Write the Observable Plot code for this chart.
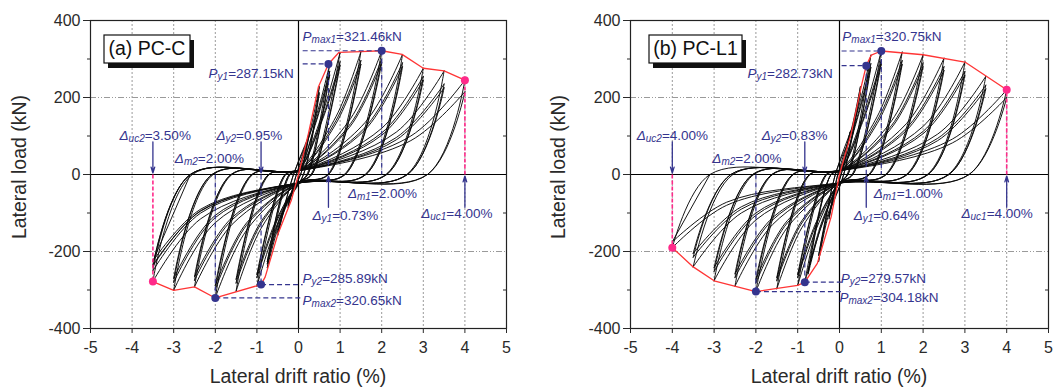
<!DOCTYPE html>
<html><head><meta charset="utf-8">
<script src="https://cdn.jsdelivr.net/npm/d3@7"></script>
<script src="https://cdn.jsdelivr.net/npm/@observablehq/plot@0.6"></script>
<style>
body{margin:0;background:#fff;}
#wrap{display:flex;width:1054px;height:391px;overflow:hidden;}
#wrap svg{display:block;flex:none;}
</style></head><body><div id="wrap"></div>
<script>
// ---------- axis ticks ----------
const xTicks = [-5,-4,-3,-2,-1,0,1,2,3,4,5];
const yTicks = [-400,-200,0,200,400];
const yMinor = [-300,-100,100,300];
const gridX = [-4,-3,-2,-1,1,2,3,4];
const gridY = [-200,200];
const PIN_POS = 10, PIN_NEG = -22;

// ---------- (a) PC-C : cycle key points (peak, knee, zero-load drift) ----------
const aDp  = [0.25,0.25,0.5,0.5,0.75,0.75,0.75,1,1,1,1.5,1.5,1.5,2,2,2,2.5,2.5,2.5,3,3,3,3.5,3.5,3.5,4,4];
const aPp  = [107,100,228,212,287,268,258,317,293,283,319,296,286,321,300,290,312,290,280,276,255,245,269,235,225,245,215];
const aKxp = [0.12,0.12,0.28,0.28,0.42,0.42,0.42,0.55,0.55,0.55,0.9,0.9,0.9,1.25,1.25,1.25,1.6,1.6,1.6,2,2,2,2.35,2.35,2.35,2.7,2.7];
const aKyp = [48,45,115,105,150,140,135,150,140,135,150,140,132,145,132,126,135,122,116,120,108,102,110,96,90,100,88];
const aRp  = [0.05,0.05,0.12,0.12,0.2,0.22,0.22,0.3,0.32,0.32,0.7,0.72,0.72,1.1,1.12,1.12,1.6,1.62,1.62,2.1,2.12,2.12,2.6,2.62,2.62,3.1,3.1];
const aDn  = [-0.25,-0.25,-0.5,-0.5,-0.75,-0.75,-0.75,-1,-1,-1,-1.5,-1.5,-1.5,-2,-2,-2,-2.5,-2.5,-2.5,-3,-3,-3,-3.5,-3.5,-3.5,-3.5,-3.5];
const aPn  = [-85,-80,-158,-150,-242,-232,-226,-290,-268,-260,-303,-282,-272,-320,-298,-288,-292,-275,-265,-301,-280,-270,-278,-250,-238,-235,-225];
const aKxn = [-0.12,-0.12,-0.28,-0.28,-0.42,-0.42,-0.42,-0.55,-0.55,-0.55,-0.9,-0.9,-0.9,-1.25,-1.25,-1.25,-1.6,-1.6,-1.6,-2,-2,-2,-2.35,-2.35,-2.35,-2.35,-2.35];
const aKyn = [-38,-35,-75,-70,-115,-108,-104,-140,-128,-122,-140,-128,-122,-145,-132,-126,-130,-118,-112,-125,-112,-106,-115,-100,-94,-95,-90];
const aRn  = [-0.05,-0.05,-0.12,-0.12,-0.2,-0.22,-0.22,-0.3,-0.32,-0.32,-0.7,-0.72,-0.72,-1.1,-1.12,-1.12,-1.6,-1.62,-1.62,-2.05,-2.08,-2.08,-2.55,-2.6,-2.6,-2.6,-2.6];
// envelope (a)
const aEnvX = [-3.5,-3,-2.5,-2,-0.9,-0.8,-0.49,-0.17,0,0.24,0.48,0.72,0.97,1.5,2,2.49,3,3.5,4];
const aEnvY = [-278,-301,-292,-320.65,-285.89,-266,-153,-66,0,107,228,287.15,317,319,321.46,312,276,269,245];

// ---------- (b) PC-L1 ----------
const bDp  = [0.25,0.25,0.5,0.5,0.75,0.75,0.75,1,1,1,1.5,1.5,1.5,2,2,2,2.5,2.5,2.5,3,3,3,3.5,3.5,3.5,4,4];
const bPp  = [110,104,228,212,310,288,278,321,298,288,318,296,286,311,290,280,302,280,270,292,268,258,255,232,222,220,200];
const bKxp = [0.12,0.12,0.28,0.28,0.42,0.42,0.42,0.55,0.55,0.55,0.9,0.9,0.9,1.25,1.25,1.25,1.6,1.6,1.6,2,2,2,2.35,2.35,2.35,2.7,2.7];
const bKyp = [48,45,115,105,160,148,142,150,140,135,150,140,132,140,128,122,132,120,114,125,112,106,105,94,88,92,82];
const bRp  = [0.04,0.04,0.1,0.1,0.18,0.2,0.2,0.3,0.32,0.32,0.7,0.72,0.72,1.1,1.12,1.12,1.6,1.62,1.62,2.1,2.12,2.12,2.6,2.62,2.62,3.1,3.1];
const bDn  = [-0.25,-0.25,-0.5,-0.5,-0.83,-0.75,-0.75,-1,-1,-1,-1.5,-1.5,-1.5,-2,-2,-2,-2.5,-2.5,-2.5,-3,-3,-3,-3.5,-3.5,-3.5,-4,-4];
const bPn  = [-115,-108,-226,-210,-280,-258,-250,-288,-268,-260,-297,-276,-268,-304,-282,-272,-290,-268,-258,-276,-252,-242,-240,-215,-205,-190,-175];
const bKxn = [-0.12,-0.12,-0.28,-0.28,-0.45,-0.42,-0.42,-0.55,-0.55,-0.55,-0.9,-0.9,-0.9,-1.25,-1.25,-1.25,-1.6,-1.6,-1.6,-2,-2,-2,-2.35,-2.35,-2.35,-2.7,-2.7];
const bKyn = [-52,-48,-112,-104,-140,-128,-122,-140,-128,-122,-138,-126,-120,-138,-126,-120,-130,-118,-112,-118,-106,-100,-100,-90,-84,-80,-72];
const bRn  = [-0.04,-0.04,-0.1,-0.1,-0.2,-0.2,-0.2,-0.3,-0.32,-0.32,-0.7,-0.72,-0.72,-1.1,-1.12,-1.12,-1.6,-1.62,-1.62,-2.05,-2.08,-2.08,-2.55,-2.6,-2.6,-3.1,-3.1];
const bEnvX = [-4,-3.5,-3,-2,-1,-0.83,-0.53,-0.2,0,0.28,0.52,0.64,0.76,1,2,3,4];
const bEnvY = [-190,-240,-276,-304.18,-288,-279.57,-231,-110,0,107,228,282.73,310,320.75,311,292,220];

// ---------- characteristic points ----------
const aYieldMax = [{x:0.72,y:287.15},{x:2,y:321.46},{x:-0.9,y:-285.89},{x:-2,y:-320.65}];
const aUlt = [{x:4,y:245},{x:-3.5,y:-278}];
const bYieldMax = [{x:0.64,y:282.73},{x:1,y:320.75},{x:-0.83,y:-279.57},{x:-2,y:-304.18}];
const bUlt = [{x:4,y:220},{x:-4,y:-190}];

const NAVY = "#34348e", PINK = "#ff2a8a", RED = "#ff3535";
const FONT = "'Liberation Sans', Arial, Helvetica, sans-serif";

function buildLoops(Dp,Pp,Kxp,Kyp,Rp,Dn,Pn,Kxn,Kyn,Rn){
  const pts=[]; let id=0; let prev=[0,0]; let r=null;
  const push=arr=>{arr.forEach(([x,y])=>pts.push({x,y,id})); id++;};
  for(let i=0;i<Dp.length;i++){
    let b=[prev];
    if(r!==null) b.push([r,0]);
    if(r!==null && Math.abs(r)>0.15) b.push([0,PIN_POS]);
    b.push([Kxp[i],Kyp[i]],[Dp[i],Pp[i]]);
    push(b);
    prev=[Dp[i],Pp[i]]; r=Rp[i];
    b=[prev,[r,0]];
    if(Math.abs(r)>0.15) b.push([0,PIN_NEG]);
    b.push([Kxn[i],Kyn[i]],[Dn[i],Pn[i]]);
    push(b);
    prev=[Dn[i],Pn[i]]; r=Rn[i];
  }
  push([prev,[r,0]]);
  return pts;
}

function annotations(ym, ult, dashTo){
  const [py1, pm1, py2, pm2] = ym;
  const navy = [
    {x1:dashTo,y1:pm1.y,x2:pm1.x,y2:pm1.y},{x1:dashTo,y1:py1.y,x2:py1.x,y2:py1.y},
    {x1:pm1.x,y1:pm1.y,x2:pm1.x,y2:0},{x1:py1.x,y1:py1.y,x2:py1.x,y2:0},
    {x1:py2.x,y1:py2.y,x2:dashTo,y2:py2.y},{x1:pm2.x,y1:pm2.y,x2:dashTo,y2:pm2.y},
    {x1:py2.x,y1:0,x2:py2.x,y2:py2.y},{x1:pm2.x,y1:0,x2:pm2.x,y2:pm2.y}
  ];
  const pink = ult.map(d=>({x1:d.x,y1:0,x2:d.x,y2:d.y}));
  const arrows = [
    {x:ult[1].x,y1:85,y2:4},{x:py2.x,y1:85,y2:4},
    {x:py1.x,y1:-85,y2:-4},{x:ult[0].x,y1:-85,y2:-4}
  ];
  return {navy,pink,arrows};
}

function panel(cfg){
  const loops = buildLoops(...cfg.cyc);
  const env = cfg.envX.map((x,i)=>({x,y:cfg.envY[i]}));
  const ann = annotations(cfg.ym, cfg.ult, cfg.dashTo);
  const chart = Plot.plot({
    width:527, height:391,
    marginLeft:cfg.ml, marginRight:cfg.mr, marginTop:20, marginBottom:63,
    x:{domain:[-5,5]}, y:{domain:[-400,400]},
    style:{fontFamily:FONT, fontSize:"16px", color:"#2a2a2a", background:"#fff"},
    marks:[
      Plot.ruleX(gridX,{stroke:"#9a9a9a",strokeDasharray:"2,2",strokeWidth:1}),
      Plot.ruleY(gridY,{stroke:"#9a9a9a",strokeDasharray:"6,2,1,2,1,2",strokeWidth:1}),
      Plot.ruleX([0],{stroke:"#000",strokeWidth:1.2}),
      Plot.ruleY([0],{stroke:"#000",strokeWidth:1.2}),
      Plot.line(loops,{x:"x",y:"y",z:"id",curve:"catmull-rom",stroke:"#0a0a0a",strokeWidth:0.95}),
      Plot.line(env,{x:"x",y:"y",stroke:RED,strokeWidth:1.3}),
      Plot.link(ann.navy,{x1:"x1",y1:"y1",x2:"x2",y2:"y2",stroke:NAVY,strokeDasharray:"5,3",strokeWidth:1.2}),
      Plot.link(ann.pink,{x1:"x1",y1:"y1",x2:"x2",y2:"y2",stroke:PINK,strokeDasharray:"4,2",strokeWidth:1.6}),
      Plot.arrow(ann.arrows,{x1:"x",y1:"y1",x2:"x",y2:"y2",stroke:NAVY,strokeWidth:1.3,headLength:7,headAngle:35}),
      Plot.dot(cfg.ym,{x:"x",y:"y",r:4,fill:NAVY}),
      Plot.dot(cfg.ult,{x:"x",y:"y",r:4,fill:PINK}),
      Plot.frame({stroke:"#222",strokeWidth:1.2}),
      Plot.axisX({ticks:xTicks,tickSize:5,tickPadding:8,tickFormat:d=>String(d),label:null}),
      Plot.axisY({ticks:yTicks,tickSize:7,tickPadding:3,tickFormat:d=>String(d),label:null}),
      Plot.axisY({ticks:yMinor,tickSize:3,tickFormat:()=>"",label:null}),
      Plot.axisY({anchor:"right",ticks:yMinor,tickSize:4,dx:-4,tickFormat:()=>"",label:null})
    ]
  });
  const svg = d3.select(chart);
  const sx = chart.scale("x"), sy = chart.scale("y");
  // annotation labels with subscripts
  cfg.labels.forEach(l=>{
    const t = svg.append("text")
      .attr("x", sx.apply(l.x)).attr("y", sy.apply(l.y))
      .attr("text-anchor","start")
      .attr("dominant-baseline","middle")
      .style("font-family",FONT).style("font-size","13.5px").attr("fill",NAVY);
    t.append("tspan").style("font-style","italic").text(l.main);
    t.append("tspan").style("font-style","italic").style("font-size","10px").attr("dy",3).text(l.sub);
    t.append("tspan").attr("dy",-3).text(l.rest);
  });
  // axis titles
  const x0 = cfg.ml, x1 = 527 - cfg.mr;
  svg.append("text").attr("x",(x0+x1)/2).attr("y",378).attr("text-anchor","middle")
    .attr("dominant-baseline","middle").style("font-family",FONT).style("font-size","19.5px")
    .attr("fill","#2a2a2a").text("Lateral drift ratio (%)");
  svg.append("text").attr("transform",`translate(${cfg.ylx},167) rotate(-90)`).attr("text-anchor","middle")
    .attr("dominant-baseline","middle").style("font-family",FONT).style("font-size","19.5px")
    .attr("fill","#2a2a2a").text("Lateral load (kN)");
  // panel tag with shadow
  const b = cfg.box;
  svg.append("rect").attr("x",b.x+4).attr("y",b.y+5).attr("width",b.w).attr("height",b.h).attr("fill","#111");
  svg.append("rect").attr("x",b.x).attr("y",b.y).attr("width",b.w).attr("height",b.h).attr("fill","#fff").attr("stroke","#111").attr("stroke-width",1.2);
  svg.append("text").attr("x",b.x+b.w/2).attr("y",b.y+b.h/2+1).attr("text-anchor","middle")
    .attr("dominant-baseline","middle").style("font-family",FONT).style("font-size","19.5px")
    .attr("fill","#111").text(cfg.tag);
  return chart;
}

const labelsA = [
  {x:0.11,y:355,main:"P",sub:"max1",rest:"=321.46kN"},
  {x:-2.15,y:259,main:"P",sub:"y1",rest:"=287.15kN"},
  {x:-4.29,y:100,main:"Δ",sub:"uc2",rest:"=3.50%"},
  {x:-1.96,y:100,main:"Δ",sub:"y2",rest:"=0.95%"},
  {x:-2.96,y:40,main:"Δ",sub:"m2",rest:"=2.00%"},
  {x:1.2,y:-53,main:"Δ",sub:"m1",rest:"=2.00%"},
  {x:0.35,y:-108,main:"Δ",sub:"y1",rest:"=0.73%"},
  {x:2.96,y:-105,main:"Δ",sub:"uc1",rest:"=4.00%"},
  {x:0.11,y:-274,main:"P",sub:"y2",rest:"=285.89kN"},
  {x:0.11,y:-329,main:"P",sub:"max2",rest:"=320.65kN"}
];
const labelsB = [
  {x:0.08,y:355,main:"P",sub:"max1",rest:"=320.75kN"},
  {x:-2.19,y:259,main:"P",sub:"y1",rest:"=282.73kN"},
  {x:-4.84,y:100,main:"Δ",sub:"uc2",rest:"=4.00%"},
  {x:-1.85,y:100,main:"Δ",sub:"y2",rest:"=0.83%"},
  {x:-3.03,y:38,main:"Δ",sub:"m2",rest:"=2.00%"},
  {x:0.83,y:-53,main:"Δ",sub:"m1",rest:"=1.00%"},
  {x:0.35,y:-108,main:"Δ",sub:"y1",rest:"=0.64%"},
  {x:2.93,y:-105,main:"Δ",sub:"uc1",rest:"=4.00%"},
  {x:0.04,y:-272,main:"P",sub:"y2",rest:"=279.57kN"},
  {x:0.01,y:-321,main:"P",sub:"max2",rest:"=304.18kN"}
];

const wrap = document.getElementById("wrap");
wrap.append(panel({
  cyc:[aDp,aPp,aKxp,aKyp,aRp,aDn,aPn,aKxn,aKyn,aRn],
  envX:aEnvX, envY:aEnvY, ym:aYieldMax, ult:aUlt, dashTo:0.1,
  ml:90, mr:21, ylx:21, labels:labelsA, tag:"(a) PC-C",
  box:{x:104,y:35,w:86,h:28}
}));
wrap.append(panel({
  cyc:[bDp,bPp,bKxp,bKyp,bRp,bDn,bPn,bKxn,bKyn,bRn],
  envX:bEnvX, envY:bEnvY, ym:bYieldMax, ult:bUlt, dashTo:0.05,
  ml:103, mr:6, ylx:33, labels:labelsB, tag:"(b) PC-L1",
  box:{x:122,y:35,w:93,h:28}
}));
</script></body></html>
